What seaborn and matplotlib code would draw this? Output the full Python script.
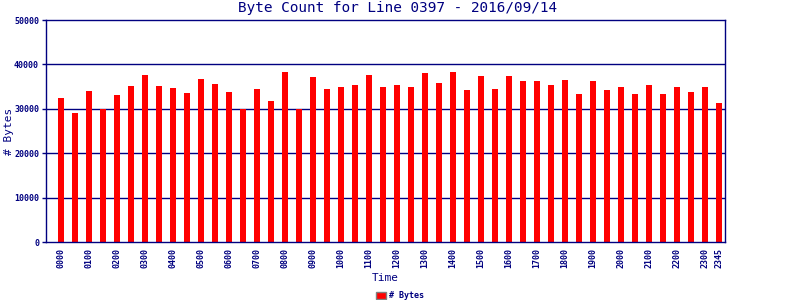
import matplotlib
matplotlib.use("Agg")
import matplotlib.pyplot as plt
import matplotlib.patches as mpatches
import seaborn as sns
import pandas as pd

times = ["0000","0030","0100","0130","0200","0230","0300","0330","0400","0430",
         "0500","0530","0600","0630","0700","0730","0800","0830","0900","0930",
         "1000","1030","1100","1130","1200","1230","1300","1330","1400","1430",
         "1500","1530","1600","1630","1700","1730","1800","1830","1900","1930",
         "2000","2030","2100","2130","2200","2230","2300","2345"]
byte_counts = [32400, 29100, 34000, 29900, 33100, 35100, 37600, 35100, 34700, 33500,
               36700, 35600, 33800, 29900, 34400, 31700, 38300, 29900, 37100, 34400,
               34900, 35300, 37600, 34900, 35300, 34900, 38000, 35800, 38300, 34200,
               37400, 34400, 37400, 36200, 36200, 35300, 36500, 33300, 36200, 34200,
               34900, 33300, 35300, 33300, 34900, 33800, 34900, 31300]
tick_labels = ["0000","0100","0200","0300","0400","0500","0600","0700","0800","0900",
               "1000","1100","1200","1300","1400","1500","1600","1700","1800","1900",
               "2000","2100","2200","2300","2345"]

df = pd.DataFrame({"Time": times, "Bytes": byte_counts})

sns.set_theme(style="white")
plt.rcParams['font.family'] = ['DejaVu Sans Mono', 'DejaVu Sans']
navy = "#000080"

fig = plt.figure(figsize=(8, 3), dpi=100)
ax = fig.add_axes([0.0575, 0.1933, 0.8487, 0.74])

sns.barplot(data=df, x="Time", y="Bytes", order=times, color="#ff0000",
            saturation=1, width=0.43, ax=ax, linewidth=0)

ax.set_xlim(-1.07, 47.43)
ax.set_ylim(0, 50000)
ax.set_yticks([0, 10000, 20000, 30000, 40000, 50000])
ax.set_yticklabels(["0", "10000", "20000", "30000", "40000", "50000"],
                   fontsize=6, fontweight="bold", color=navy)
tick_pos = [times.index(t) for t in tick_labels]
ax.set_xticks(tick_pos)
ax.set_xticklabels(tick_labels, rotation=90, fontsize=6, fontweight="bold", color=navy)
ax.tick_params(axis="y", direction="out", length=3, width=1, color=navy, pad=2, left=True)
ax.tick_params(axis="x", length=0, pad=4)

for v in [10000, 20000, 30000, 40000]:
    ax.axhline(v, color=navy, linewidth=1, zorder=0.5)
for s in ax.spines.values():
    s.set_color(navy)
    s.set_linewidth(1)
    s.set_visible(True)

ax.set_xlabel("Time", fontsize=8, color=navy)
ax.set_ylabel("# Bytes", fontsize=8, color=navy)
ax.xaxis.set_label_coords(0.499, -0.14)
ax.yaxis.set_label_coords(-0.047, 0.5)
ax.set_title("Byte Count for Line 0397 - 2016/09/14", fontsize=10.4, color=navy,
             pad=6, x=0.518)

handle = mpatches.Patch(facecolor="#ff0000", edgecolor="#808080", linewidth=1, label="# Bytes")
leg = fig.legend(handles=[handle], loc="lower center", bbox_to_anchor=(0.5, -0.025),
                 frameon=False, handlelength=1.2, handleheight=0.9, handletextpad=0.4,
                 prop={"family": "DejaVu Sans Mono", "size": 6, "weight": "bold"})
for t in leg.get_texts():
    t.set_color(navy)

fig.savefig("out.png", dpi=100, facecolor="white")
